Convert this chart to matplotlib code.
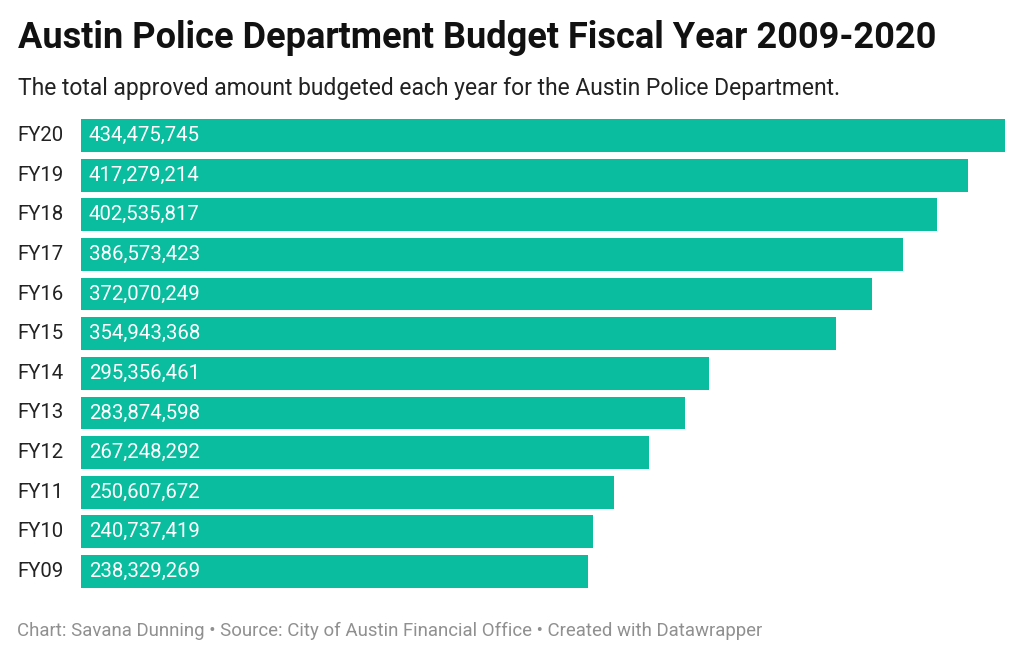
import matplotlib
matplotlib.use("Agg")
import matplotlib.pyplot as plt

years = ["FY09", "FY10", "FY11", "FY12", "FY13", "FY14", "FY15", "FY16", "FY17", "FY18", "FY19", "FY20"]
budget = [238329269, 240737419, 250607672, 267248292, 283874598, 295356461,
          354943368, 372070249, 386573423, 402535817, 417279214, 434475745]

title = "Austin Police Department Budget Fiscal Year 2009-2020"
subtitle = "The total approved amount budgeted each year for the Austin Police Department."
footer = "Chart: Savana Dunning • Source: City of Austin Financial Office • Created with Datawrapper"

plt.rcParams['font.family'] = ['Roboto', 'DejaVu Sans']

W, H = 1024, 659
fig = plt.figure(figsize=(W / 100, H / 100), dpi=100)
fig.patch.set_facecolor("white")

left, right, top, bottom = 81, 1005, 119, 588
ax = fig.add_axes([left / W, 1 - bottom / H, (right - left) / W, (bottom - top) / H])

bh = 0.83
pos = list(range(len(years)))
ax.barh(pos, budget, height=bh, color="#0bbd9f")
ax.set_xlim(0, max(budget))
ax.set_ylim(-bh / 2, len(years) - 1 + bh / 2)
ax.axis("off")

for p, y, v in zip(pos, years, budget):
    ax.text(max(budget) * 0.0085, p, f"{v:,}", color="white", fontsize=14.7,
            va="center", ha="left")
    ax.text(-max(budget) * 0.0685, p, y, color="#222222", fontsize=14.7,
            va="center", ha="left")

fig.text(18 / W, 1 - 38 / H, title, fontsize=26, fontweight="bold",
         color="#111111", va="center", ha="left")
fig.text(18 / W, 1 - 88 / H, subtitle, fontsize=16.5, color="#222222",
         va="center", ha="left")
fig.text(17 / W, 1 - 631 / H, footer, fontsize=13.4, color="#909090",
         va="center", ha="left")

fig.savefig("out.png", dpi=100)
